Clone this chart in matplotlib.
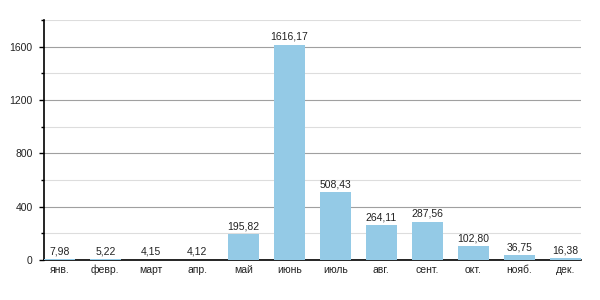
import matplotlib
matplotlib.use("Agg")
import matplotlib.pyplot as plt
from matplotlib.ticker import MultipleLocator

months = ["янв.", "февр.", "март", "апр.", "май", "июнь",
          "июль", "авг.", "сент.", "окт.", "нояб.", "дек."]
values = [7.98, 5.22, 4.15, 4.12, 195.82, 1616.17,
          508.43, 264.11, 287.56, 102.80, 36.75, 16.38]

plt.rcParams['font.family'] = ['Liberation Sans', 'DejaVu Sans']

fig = plt.figure(figsize=(6, 3), dpi=100)
ax = fig.add_axes([0.073, 0.133, 0.895, 0.80])

width = 0.674
x = range(len(months))
ax.bar(x, values, width=width, color='#94cae6', zorder=3)

for xi, v in zip(x, values):
    ax.annotate(f"{v:.2f}".replace(".", ","), (xi, v), xytext=(0, 2),
                textcoords='offset points', ha='center', va='bottom',
                fontsize=7.5, color='#222222')

ax.set_xlim(-width / 2, len(months) - 1 + width / 2)
ax.set_ylim(0, 1800)
ax.set_xticks(list(x))
ax.set_xticklabels(months, fontsize=7.5, color='#222222')
for lbl in ax.get_xticklabels():
    lbl.set_verticalalignment('baseline')
ax.tick_params(axis='x', length=0, pad=9)

ax.yaxis.set_major_locator(MultipleLocator(400))
ax.yaxis.set_minor_locator(MultipleLocator(200))
ax.tick_params(axis='y', which='major', length=3.6, width=1, labelsize=7.5,
               labelcolor='#222222', pad=4.5)
ax.tick_params(axis='y', which='minor', length=2.5, width=1)
ax.grid(axis='y', which='major', color='#a0a0a0', linewidth=0.8, zorder=0)
ax.grid(axis='y', which='minor', color='#dddddd', linewidth=0.8, zorder=0)

for s in ['top', 'right']:
    ax.spines[s].set_visible(False)
ax.spines['left'].set_linewidth(1.2)
ax.spines['bottom'].set_linewidth(1.2)

fig.savefig("out.png", dpi=100)
